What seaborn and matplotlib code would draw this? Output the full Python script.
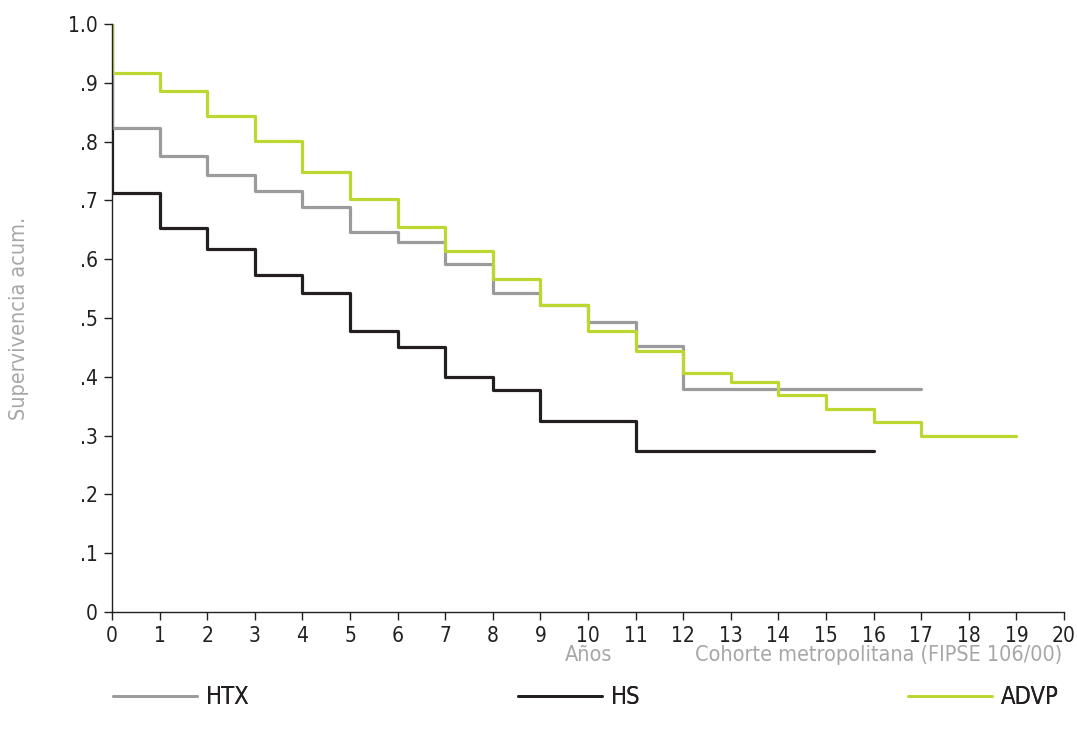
import matplotlib
matplotlib.use("Agg")
import matplotlib.pyplot as plt
import seaborn as sns
import pandas as pd
from matplotlib.lines import Line2D

# ---- data ----
groups = ["HTX", "HS", "ADVP"]
htx_years = [0, 0, 1, 2, 3, 4, 5, 6, 7, 8, 9, 10, 11, 12, 17]
htx_surv = [1.0, 0.823, 0.776, 0.744, 0.716, 0.688, 0.646, 0.629, 0.591, 0.543, 0.522, 0.493, 0.453, 0.380, 0.380]
hs_years = [0, 0, 1, 2, 3, 4, 5, 6, 7, 8, 9, 11, 16]
hs_surv = [1.0, 0.712, 0.653, 0.618, 0.573, 0.543, 0.478, 0.450, 0.400, 0.378, 0.325, 0.274, 0.274]
advp_years = [0, 0, 1, 2, 3, 4, 5, 6, 7, 8, 9, 10, 11, 12, 13, 14, 15, 16, 17, 19]
advp_surv = [1.0, 0.916, 0.886, 0.843, 0.801, 0.748, 0.702, 0.655, 0.614, 0.566, 0.522, 0.478, 0.444, 0.407, 0.392, 0.369, 0.345, 0.323, 0.300, 0.300]
x_ticks = list(range(0, 21))
y_ticks = [0, 0.1, 0.2, 0.3, 0.4, 0.5, 0.6, 0.7, 0.8, 0.9, 1.0]
y_tick_labels = ["0", ".1", ".2", ".3", ".4", ".5", ".6", ".7", ".8", ".9", "1.0"]

colors = {"HTX": "#9b9b9d", "HS": "#231f20", "ADVP": "#bed630"}

frames = []
for g, xs, ys in zip(groups, [htx_years, hs_years, advp_years], [htx_surv, hs_surv, advp_surv]):
    frames.append(pd.DataFrame({"year": xs, "surv": ys, "group": g}))
df = pd.concat(frames, ignore_index=True)

sns.set_style("white")
plt.rcParams["font.family"] = ["DejaVu Sans"]
plt.rcParams["font.stretch"] = "condensed"
plt.rcParams["font.weight"] = "light"

fig = plt.figure(figsize=(10.77, 7.38), dpi=100)
ax = fig.add_axes([112 / 1077, 1 - 612 / 738, (1064 - 112) / 1077, (612 - 24) / 738])

for g in ["HS", "HTX", "ADVP"]:
    sub = df[df.group == g]
    sns.lineplot(data=sub, x="year", y="surv", estimator=None, sort=False,
                 drawstyle="steps-post", color=colors[g], lw=2.3, ax=ax, legend=False)

ax.set_xlim(0, 20)
ax.set_ylim(0, 1.0)
ax.set_xticks(x_ticks)
ax.set_xticklabels([str(t) for t in x_ticks])
ax.set_yticks(y_ticks)
ax.set_yticklabels(y_tick_labels)
for s in ["top", "right"]:
    ax.spines[s].set_visible(False)
for s in ["left", "bottom"]:
    ax.spines[s].set_color("#231f20")
    ax.spines[s].set_linewidth(1.0)
ax.tick_params(axis="both", direction="out", length=6, width=1.0, color="#231f20",
               labelsize=15, labelcolor="#231f20", pad=4, left=True, bottom=True)
ax.set_xlabel("")
ax.set_ylabel("Supervivencia acum.", fontsize=15.5, color="#a7a7a9", labelpad=28)

fig.text(612 / 1077, 1 - 655 / 738, "Años", ha="right", va="center", fontsize=15.5, color="#a7a7a9")
fig.text(1062 / 1077, 1 - 655 / 738, "Cohorte metropolitana (FIPSE 106/00)", ha="right", va="center",
         fontsize=15.5, color="#a7a7a9")

legend_x = {"HTX": 113, "HS": 518, "ADVP": 908}
for g in groups:
    leg = fig.legend([Line2D([], [], color=colors[g], lw=2.0)], [g], loc="center left",
                     bbox_to_anchor=(legend_x[g] / 1077, 1 - 697 / 738), frameon=False,
                     fontsize=17, handlelength=3.55, handletextpad=0.4, borderpad=0,
                     borderaxespad=0, labelcolor="#231f20")
    fig.add_artist(leg)

fig.savefig("out.png", dpi=100)
